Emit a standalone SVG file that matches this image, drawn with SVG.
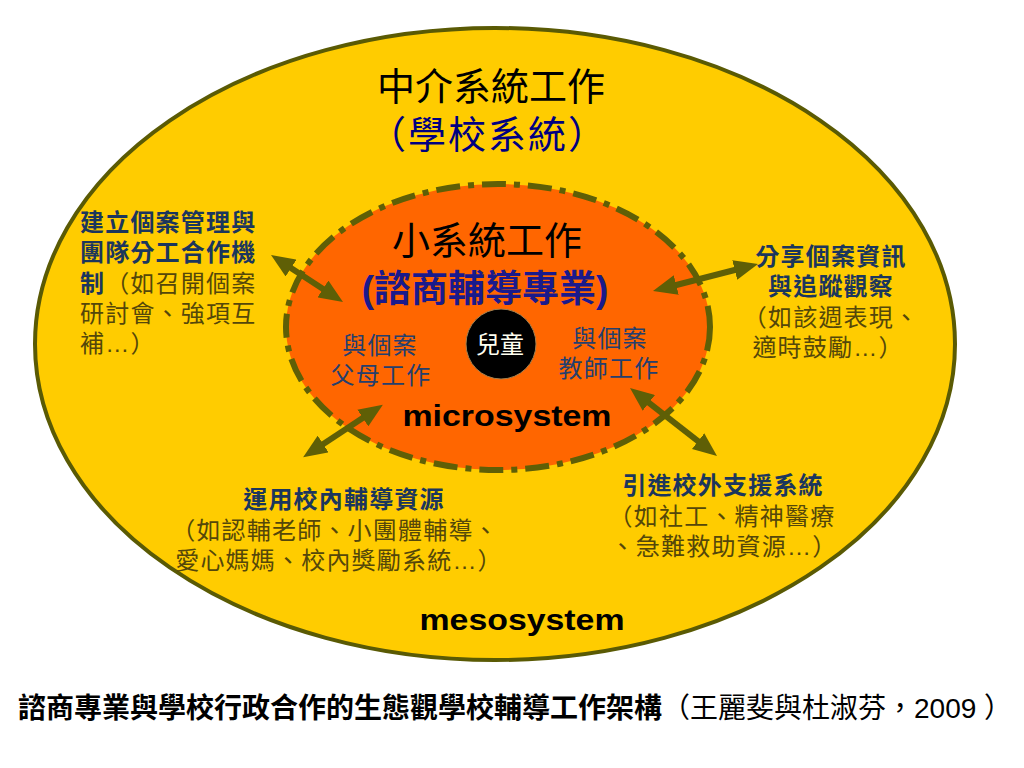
<svg xmlns="http://www.w3.org/2000/svg" width="1024" height="768" viewBox="0 0 1024 768">
<defs>
<style>
text{font-family:"Liberation Sans","Noto Sans CJK TC",sans-serif;}
.lbl{font-size:24px;letter-spacing:1.2px;}
.b{font-weight:bold;fill:#1b365d;}
.r{font-weight:normal;fill:#54470a;}
.conn line{stroke:#5f5f06;stroke-width:6;fill:none;marker-start:url(#ah);marker-end:url(#ah);}
</style>
<marker id="ah" viewBox="0 0 24 20" markerWidth="24" markerHeight="20" refX="8" refY="10" orient="auto-start-reverse" markerUnits="userSpaceOnUse">
<path d="M0,0 L24,10 L0,20 z" fill="#5f5f06"/>
</marker>
</defs>
<rect width="1024" height="768" fill="#ffffff"/>

<g id="mesosystem">
<ellipse cx="495" cy="344" rx="460" ry="316" fill="#ffcc00" stroke="#5a5a04" stroke-width="4"/>
<text x="491" y="100" font-size="38" text-anchor="middle" fill="#000000">中介系統工作</text>
<text x="488" y="148" font-size="38" text-anchor="middle" fill="#000080" letter-spacing="2">（學校系統）</text>
<text x="522" y="630" font-size="30" font-weight="bold" text-anchor="middle" fill="#000000" textLength="205" lengthAdjust="spacingAndGlyphs">mesosystem</text>
</g>

<g id="microsystem">
<ellipse cx="498" cy="327" rx="212" ry="143" fill="#ff6600" stroke="#5f5f06" stroke-width="6" stroke-dasharray="24 8 6 8"/>
<text x="487" y="254" font-size="38" text-anchor="middle" fill="#000000">小系統工作</text>
<text x="485" y="302" font-size="37" font-weight="bold" text-anchor="middle" fill="#1a1a8c">(諮商輔導專業)</text>
<text x="507" y="426" font-size="30" font-weight="bold" text-anchor="middle" fill="#000000" textLength="209" lengthAdjust="spacingAndGlyphs">microsystem</text>
</g>

<g id="parents">
<text class="lbl" text-anchor="middle" fill="#243f6e"><tspan x="380" y="354">與個案</tspan><tspan x="381" y="384">父母工作</tspan></text>
</g>

<g id="teachers">
<text class="lbl" text-anchor="middle" fill="#243f6e"><tspan x="610" y="347">與個案</tspan><tspan x="609" y="377">教師工作</tspan></text>
</g>

<g id="child">
<circle cx="501" cy="344" r="35" fill="#000000" stroke="#a08050" stroke-width="1"/>
<text x="500" y="353" font-size="24" text-anchor="middle" fill="#fffff0">兒童</text>
</g>

<g id="case-management">
<text class="lbl"><tspan class="b" x="80" y="231">建立個案管理與</tspan><tspan class="b" x="80" y="261">團隊分工合作機</tspan><tspan class="b" x="80" y="292">制</tspan><tspan class="r">（如召開個案</tspan><tspan class="r" x="80" y="322">研討會、強項互</tspan><tspan class="r" x="80" y="352">補…）</tspan></text>
</g>

<g id="share-info">
<text class="lbl" text-anchor="middle"><tspan class="b" x="831" y="265">分享個案資訊</tspan><tspan class="b" x="831" y="295">與追蹤觀察</tspan><tspan class="r" x="831" y="326">（如該週表現、</tspan><tspan class="r" x="828" y="356">適時鼓勵…）</tspan></text>
</g>

<g id="school-resources">
<text class="lbl" text-anchor="middle"><tspan class="b" x="344" y="508">運用校內輔導資源</tspan><tspan class="r" x="335" y="539">（如認輔老師、小團體輔導、</tspan><tspan class="r" x="339" y="569">愛心媽媽、校內獎勵系統…）</tspan></text>
</g>

<g id="external-support">
<text class="lbl" text-anchor="middle"><tspan class="b" x="723" y="494">引進校外支援系統</tspan><tspan class="r" x="722" y="525">（如社工、精神醫療</tspan><tspan class="r" x="724" y="555">、急難救助資源…）</tspan></text>
</g>

<g id="connectors" class="conn">
<line x1="284.4" y1="263.7" x2="329.6" y2="293.3"/>
<line x1="668.5" y1="287" x2="742.5" y2="268"/>
<line x1="369.5" y1="413.6" x2="316.5" y2="448.4"/>
<line x1="642.6" y1="397.9" x2="704.4" y2="446.1"/>
</g>

<g id="caption">
<text x="18" y="718" font-size="28" fill="#000000"><tspan font-weight="bold">諮商專業與學校行政合作的生態觀學校輔導工作架構</tspan><tspan>（王麗斐與杜淑芬，2009 ）</tspan></text>
</g>
</svg>
